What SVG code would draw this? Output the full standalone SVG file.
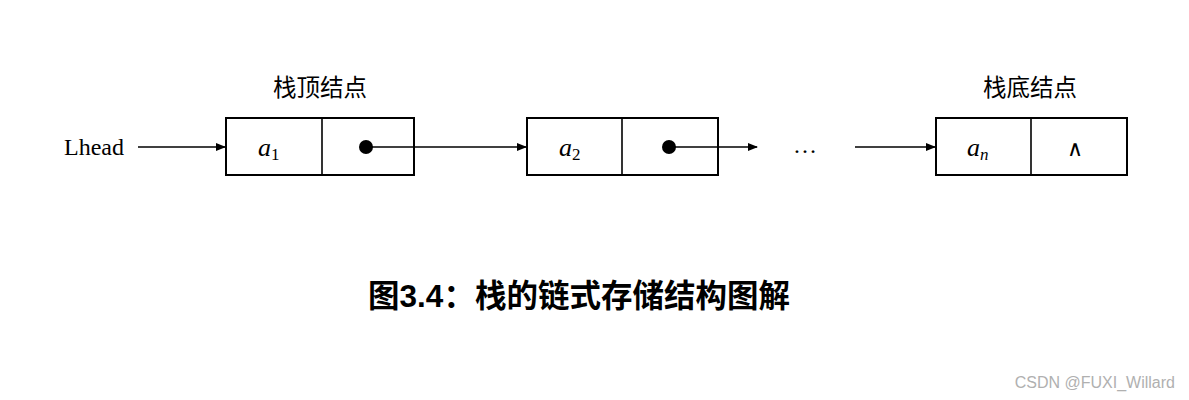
<svg xmlns="http://www.w3.org/2000/svg" width="1189" height="400" viewBox="0 0 1189 400">
<style>
.box{fill:#fff;stroke:#000;stroke-width:2}
.ln{stroke:#000;stroke-width:1.6;fill:none}
.cn{font-family:"Noto Sans CJK SC","Noto Sans",sans-serif;font-size:23.5px;fill:#000}
.m{font-family:"Liberation Serif","DejaVu Serif",serif;font-size:24px;fill:#000}
.mi{font-family:"Liberation Serif","DejaVu Serif",serif;font-style:italic;font-size:26px;fill:#000}
.sub{font-family:"Liberation Serif","DejaVu Serif",serif;font-size:17px;fill:#000}
</style>
<defs>
<marker id="ah" markerWidth="10" markerHeight="8" refX="9" refY="4" orient="auto" markerUnits="userSpaceOnUse">
<path d="M0,0 L10,4 L0,8 Z" fill="#000"/>
</marker>
</defs>
<rect width="1189" height="400" fill="#fff"/>
<text x="64" y="155" class="m">Lhead</text>
<g id="node1">
<rect x="226" y="118" width="188" height="57" class="box"/>
<line x1="322" y1="118" x2="322" y2="175" class="ln" stroke-width="2"/>
<text x="258" y="156" class="mi">a<tspan class="sub" font-style="normal" dy="4">1</tspan></text>
<circle cx="366" cy="147" r="7" fill="#000"/>
<text x="320" y="96" class="cn" text-anchor="middle">栈顶结点</text>
</g>
<g id="node2">
<rect x="527" y="118" width="191" height="57" class="box"/>
<line x1="622" y1="118" x2="622" y2="175" class="ln" stroke-width="2"/>
<text x="559" y="156" class="mi">a<tspan class="sub" font-style="normal" dy="4">2</tspan></text>
<circle cx="669" cy="147" r="7" fill="#000"/>
</g>
<g id="ellipsis">
<text x="805" y="153" class="m" text-anchor="middle" font-size="18">…</text>
</g>
<g id="node3">
<rect x="936" y="118" width="191" height="57" class="box"/>
<line x1="1031" y1="118" x2="1031" y2="175" class="ln" stroke-width="2"/>
<text x="967" y="156" class="mi">a<tspan class="sub" dy="4">n</tspan></text>
<text x="1075" y="156" text-anchor="middle" font-family="DejaVu Sans,sans-serif" font-weight="300" font-size="22" fill="#000">∧</text>
<text x="1030" y="96" class="cn" text-anchor="middle">栈底结点</text>
</g>
<g id="connectors">
<line x1="138" y1="147" x2="225" y2="147" class="ln" marker-end="url(#ah)"/>
<line x1="366" y1="147" x2="526" y2="147" class="ln" marker-end="url(#ah)"/>
<line x1="669" y1="147" x2="757" y2="147" class="ln" marker-end="url(#ah)"/>
<line x1="855" y1="147" x2="935" y2="147" class="ln" marker-end="url(#ah)"/>
</g>
<text x="579" y="307" text-anchor="middle" font-family="Liberation Sans,'Noto Sans CJK SC',sans-serif" font-weight="bold" font-size="31.5" fill="#000">图3.4：栈的链式存储结构图解</text>
<text x="1175" y="388" text-anchor="end" font-family="Liberation Sans,Arial,sans-serif" font-size="16" fill="#b0b0b0">CSDN @FUXI_Willard</text>
</svg>
